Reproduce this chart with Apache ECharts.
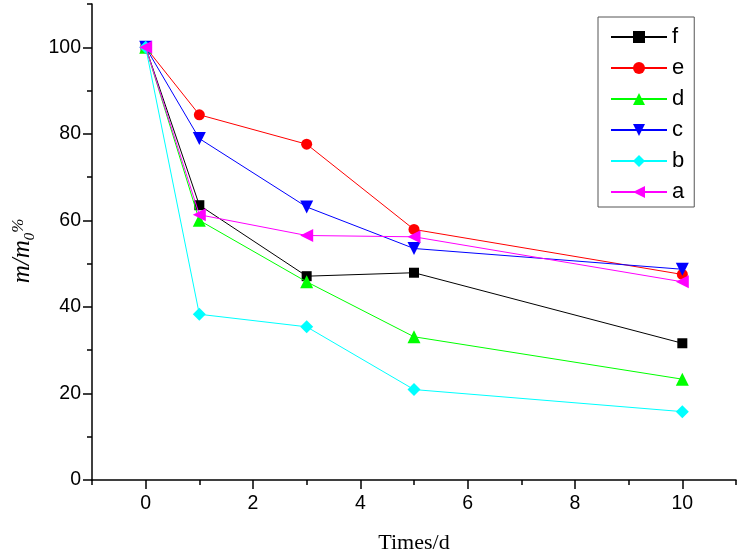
<!DOCTYPE html>
<html>
<head>
<meta charset="utf-8">
<script src="https://cdn.jsdelivr.net/npm/echarts@6/dist/echarts.min.js"></script>
<style>
html,body{margin:0;padding:0;background:#fff;}
#chart{width:741px;height:556px;}
</style>
</head>
<body>
<div id="chart"></div>
<script>
var times = [0, 1, 3, 5, 10];
var seriesNames = ['f', 'e', 'd', 'c', 'b', 'a'];
var fValues = [100, 63.5, 47.1, 47.9, 31.6];
var eValues = [100, 84.4, 77.6, 57.9, 47.5];
var dValues = [100, 60.0, 45.8, 33.1, 23.3];
var cValues = [100, 78.9, 63.1, 53.5, 48.7];
var bValues = [100, 38.3, 35.4, 20.9, 15.8];
var aValues = [100, 61.3, 56.5, 56.2, 45.8];
var xTickLabels = [0, 2, 4, 6, 8, 10];
var yTickLabels = [0, 20, 40, 60, 80, 100];

var colors = ['#000000', '#ff0000', '#00ff00', '#0000ff', '#00ffff', '#ff00ff'];
var symbols = ['rect', 'circle', 'triangle',
  'path://M0,0 L10,0 L5,8.66 Z',
  'diamond',
  'path://M8.66,0 L8.66,10 L0,5 Z'];
var sizes = [10, 11, 13, 13, 13, 13];
var allValues = [fValues, eValues, dValues, cValues, bValues, aValues];

function pairs(vals) {
  return times.map(function (t, i) { return [t, vals[i]]; });
}

var series = seriesNames.map(function (n, i) {
  return {
    name: n,
    type: 'line',
    data: pairs(allValues[i]),
    symbol: symbols[i],
    symbolSize: sizes[i],
    showAllSymbol: true,
    color: colors[i],
    lineStyle: { color: colors[i], width: 1 },
    itemStyle: { color: colors[i] },
    xAxisIndex: 0,
    yAxisIndex: 0,
    animation: false,
    z: 2 + i
  };
});

var chart = echarts.init(document.getElementById('chart'));
chart.setOption({
  animation: false,
  backgroundColor: '#ffffff',
  grid: { left: 92, right: 5, top: 4, bottom: 76, containLabel: false, outerBoundsMode: 'none' },
  legend: {
    orient: 'vertical',
    left: 598,
    top: 17,
    padding: [9, 10, 4, 12],
    borderColor: '#555555',
    borderWidth: 1,
    itemWidth: 56,
    itemHeight: 15,
    itemGap: 9,
    data: seriesNames,
    textStyle: { fontFamily: 'Liberation Sans, Arial', fontSize: 22, color: '#000', lineHeight: 22 }
  },
  xAxis: [{
    type: 'value',
    min: -1, max: 11,
    position: 'bottom',
    name: 'Times/d',
    nameLocation: 'middle',
    nameGap: 52,
    nameTextStyle: { fontFamily: 'Liberation Serif, Times New Roman', fontSize: 22, color: '#000' },
    axisLine: { show: true, onZero: false, lineStyle: { color: '#000', width: 1.5 } },
    axisTick: { show: true, inside: false, length: 9, customValues: xTickLabels, lineStyle: { color: '#000', width: 1.5 } },
    axisLabel: { show: true, customValues: xTickLabels, margin: 14, fontFamily: 'Liberation Sans, Arial', fontSize: 19.5, color: '#000' },
    splitLine: { show: false }
  }, {
    type: 'value',
    min: -1, max: 11, interval: 1,
    position: 'bottom',
    axisLine: { show: false, onZero: false },
    axisTick: { show: true, inside: false, length: 5, lineStyle: { color: '#000', width: 1.5 } },
    axisLabel: { show: false },
    splitLine: { show: false }
  }],
  yAxis: [{
    type: 'value',
    min: 0, max: 110,
    position: 'left',
    name: '{i|m/m}{s|0}{p|%}',
    nameLocation: 'middle',
    nameRotate: 90,
    nameGap: 52,
    nameTextStyle: {
      padding: [0, 18, 0, 0],
      rich: {
        i: { fontFamily: 'Liberation Serif, Times New Roman', fontStyle: 'italic', fontSize: 25, color: '#000', lineHeight: 30, verticalAlign: 'middle' },
        s: { fontFamily: 'Liberation Serif, Times New Roman', fontStyle: 'italic', fontSize: 15, color: '#000', lineHeight: 30, verticalAlign: 'bottom' },
        p: { fontFamily: 'Liberation Serif, Times New Roman', fontStyle: 'italic', fontSize: 17, color: '#000', lineHeight: 30, verticalAlign: 'top', padding: [2, 0, 0, 0] }
      }
    },
    axisLine: { show: true, onZero: false, lineStyle: { color: '#000', width: 1.5 } },
    axisTick: { show: true, inside: false, length: 9, customValues: yTickLabels, lineStyle: { color: '#000', width: 1.5 } },
    axisLabel: { show: true, customValues: yTickLabels, margin: 11, fontFamily: 'Liberation Sans, Arial', fontSize: 19.5, color: '#000' },
    splitLine: { show: false }
  }, {
    type: 'value',
    min: 0, max: 110, interval: 10,
    position: 'left',
    axisLine: { show: false, onZero: false },
    axisTick: { show: true, inside: false, length: 5, lineStyle: { color: '#000', width: 1.5 } },
    axisLabel: { show: false },
    splitLine: { show: false }
  }],
  series: series
});
</script>
</body>
</html>
